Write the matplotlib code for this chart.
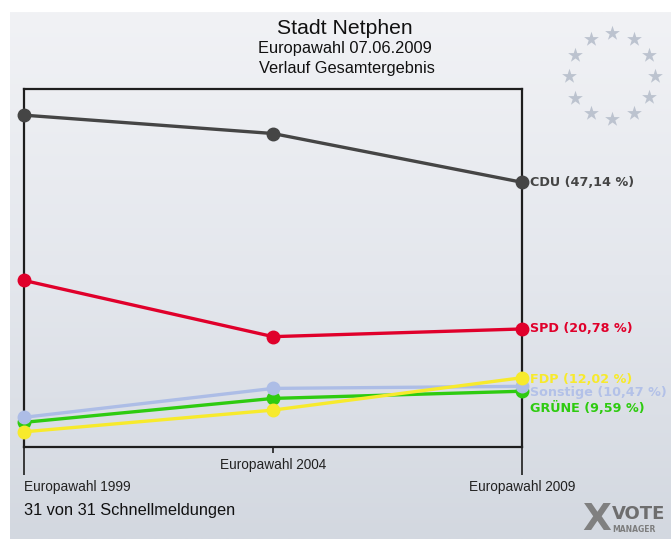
import numpy as np
import matplotlib
matplotlib.use("Agg")
import matplotlib.pyplot as plt
from matplotlib.colors import LinearSegmentedColormap

# data
elections = ["Europawahl 1999", "Europawahl 2004", "Europawahl 2009"]
cdu = [59.2, 55.9, 47.14]
spd = [29.5, 19.4, 20.78]
gruene = [4.0, 8.3, 9.59]
sonstige = [4.9, 10.1, 10.47]
fdp = [2.3, 6.2, 12.02]

parties = ["CDU", "SPD", "GRÜNE", "Sonstige", "FDP"]
series = [cdu, spd, gruene, sonstige, fdp]
labels = ["CDU (47,14 %)", "SPD (20,78 %)", "GRÜNE (9,59 %)",
          "Sonstige (10,47 %)", "FDP (12,02 %)"]
colors = ["#454545", "#e0002b", "#2ecb10", "#adbde6", "#f7ea2c"]
label_colors = ["#454545", "#e0002b", "#2ecb10", "#b3c1e8", "#f7ea2c"]
label_dy = [0, 0, -12, -4.5, -1]   # points, to keep labels apart

W, H = 671, 539
fig = plt.figure(figsize=(W / 100, H / 100), dpi=100)
fig.patch.set_facecolor("white")

def fx(x):
    return x / W

def fy(y):
    return 1 - y / H

# background panel with vertical gradient
bg = fig.add_axes([fx(10), 0, 1 - fx(10), fy(12)])
cmap = LinearSegmentedColormap.from_list("bg", ["#f1f2f5", "#e4e7ed", "#d3d8e0"])
bg.imshow(np.linspace(0, 1, 256).reshape(-1, 1), aspect="auto", cmap=cmap,
          extent=[0, 1, 0, 1], origin="upper")
bg.set_axis_off()

# EU star ring
cx, cy, r = 612, 76, 43
ang = np.linspace(0, 2 * np.pi, 13)[:-1]
bg_ov = fig.add_axes([0, 0, 1, 1])
bg_ov.set_xlim(0, W)
bg_ov.set_ylim(H, 0)
bg_ov.set_axis_off()
bg_ov.scatter(cx + r * np.sin(ang), cy - r * np.cos(ang), marker="*", s=125,
              color="#bcc3cf", linewidths=0)

# VoteManager logo (cut at right edge)
bg_ov.text(597, 520, "X", fontsize=27, fontweight="bold", color="#808080",
           ha="center", va="center", family="DejaVu Sans")
bg_ov.text(612, 514, "VOTE", fontsize=13, fontweight="bold", color="#6e6e6e",
           ha="left", va="center", family="DejaVu Sans")
bg_ov.text(612, 529, "MANAGER", fontsize=5.5, fontweight="bold", color="#7d7d7d",
           ha="left", va="center", family="DejaVu Sans")

# titles
fig.text(fx(345), fy(28), "Stadt Netphen", fontsize=15.2, ha="center",
         va="center", family="Liberation Sans", color="#111111")
fig.text(fx(345), fy(49), "Europawahl 07.06.2009", fontsize=11.8, ha="center",
         va="center", family="Liberation Sans", color="#111111")
fig.text(fx(347), fy(69), "Verlauf Gesamtergebnis", fontsize=11.8, ha="center",
         va="center", family="Liberation Sans", color="#111111")
fig.text(fx(24), fy(511), "31 von 31 Schnellmeldungen", fontsize=11.8,
         ha="left", va="center", family="Liberation Sans", color="#111111")

# main plot
ax = fig.add_axes([fx(24), fy(447), fx(522) - fx(24), fy(89) - fy(447)])
ax.set_facecolor("none")
ax.set_xlim(0, 2)
ax.set_ylim(-0.43, 63.9)
x = np.arange(len(elections))

for vals, c in zip(series, colors):
    ax.plot(x, vals, color=c, lw=2.4, solid_capstyle="round", zorder=3)
for vals, c in zip(series, colors):
    ax.plot(x, vals, "o", color=c, ms=9, zorder=4, clip_on=False)

for vals, lab, c, dy in zip(series, labels, label_colors, label_dy):
    ax.annotate(lab, (x[-1], vals[-1]), xytext=(6, dy), textcoords="offset points",
                ha="left", va="center", fontsize=9.2, fontweight="bold",
                color=c, family="DejaVu Sans", annotation_clip=False)

for s in ax.spines.values():
    s.set_color("#1e1e1e")
    s.set_linewidth(1.6)

ax.set_yticks([])
ax.set_xticks([0, 2])
ax.set_xticks([1], minor=True)
ax.set_xticklabels([elections[0], elections[2]], fontsize=9.8,
                   family="Liberation Sans", color="#222222")
ax.set_xticklabels([elections[1]], minor=True, fontsize=9.8,
                   family="Liberation Sans", color="#222222")
ax.tick_params(axis="x", which="major", length=20, width=1.2, color="#1e1e1e", pad=4)
ax.tick_params(axis="x", which="minor", length=4.5, width=1.2, color="#1e1e1e", pad=3.5)
tl = ax.get_xticklabels()
tl[0].set_ha("left")
tl[1].set_ha("center")

fig.savefig("out.png", dpi=100, facecolor="white")
